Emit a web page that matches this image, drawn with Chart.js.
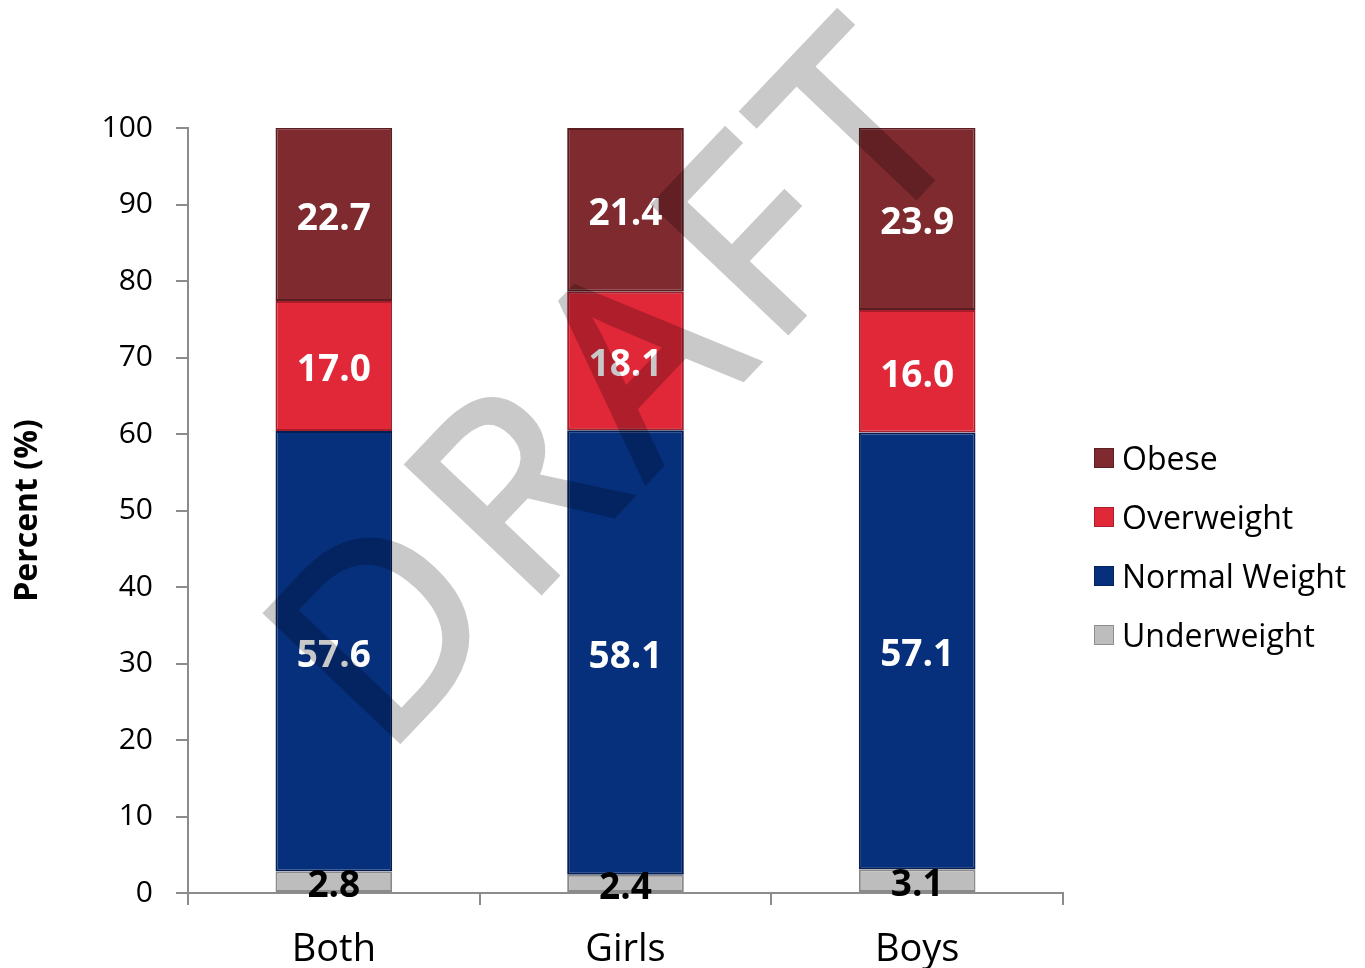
<!DOCTYPE html>
<html>
<head>
<meta charset="utf-8">
<script src="https://cdn.jsdelivr.net/npm/chart.js@4.4.0/dist/chart.umd.min.js"></script>
<style>
  html, body { margin: 0; padding: 0; background: #fff; }
  #wrap { position: relative; width: 1365px; height: 968px; }
  #legend { position: absolute; left: 1094px; top: 428px; font-family: 'Open Sans', sans-serif; font-size: 32px; color: #000; }
  .item { height: 59px; display: flex; align-items: center; white-space: nowrap; }
  .box { width: 20px; height: 20px; margin-right: 8px; box-sizing: border-box; border: 1px solid rgba(0,0,0,0.25); }
</style>
</head>
<body>
<div id="wrap">
  <canvas id="chart" width="1365" height="968"></canvas>
  <div id="legend"></div>
</div>
<script>
// Datos del gráfico
const categories = ['Both', 'Girls', 'Boys'];
const underweight = [2.8, 2.4, 3.1];
const normalWeight = [57.6, 58.1, 57.1];
const overweight = [17.0, 18.1, 16.0];
const obese = [22.7, 21.4, 23.9];

const seriesNames = ['Underweight', 'Normal Weight', 'Overweight', 'Obese'];
const seriesColors = ['#bdbdbd', '#062f7c', '#e02838', '#7e2a2f'];
const seriesBorders = ['#8a8a8a', '#041f55', '#a81d29', '#5a1d21'];
const labelColors = ['#000000', '#ffffff', '#ffffff', '#ffffff'];

const yMin = 0;
const yMax = 100;
const yStep = 10;

Chart.defaults.font.family = "'Open Sans', sans-serif";
Chart.defaults.color = '#000';

// Etiquetas de valores dentro de cada segmento
const valueLabels = {
  id: 'valueLabels',
  afterDatasetsDraw(chart) {
    const ctx = chart.ctx;
    ctx.save();
    ctx.font = "bold 37px 'Open Sans'";
    ctx.textAlign = 'center';
    ctx.textBaseline = 'middle';
    chart.data.datasets.forEach((ds, i) => {
      const meta = chart.getDatasetMeta(i);
      meta.data.forEach((bar, j) => {
        ctx.fillStyle = labelColors[i];
        const y = (bar.y + bar.base) / 2;
        ctx.fillText(ds.data[j].toFixed(1), bar.x, y + 5);
      });
    });
    ctx.restore();
  }
};

// Marca de agua "DRAFT" (se dibuja opaca en un lienzo aparte y luego con transparencia)
const watermark = {
  id: 'watermark',
  afterDraw(chart) {
    const off = document.createElement('canvas');
    off.width = chart.width;
    off.height = chart.height;
    const o = off.getContext('2d');
    o.translate(684, 441);
    o.rotate(-46.5 * Math.PI / 180);
    o.font = "258px 'Open Sans'";
    o.letterSpacing = '18px';
    o.textAlign = 'center';
    o.textBaseline = 'alphabetic';
    o.fillStyle = '#000';
    o.strokeStyle = '#000';
    o.lineWidth = 6;
    o.fillText('DRAFT', 0, 0);
    o.strokeText('DRAFT', 0, 0);

    const ctx = chart.ctx;
    ctx.save();
    ctx.globalAlpha = 0.21;
    ctx.drawImage(off, 0, 0);
    ctx.restore();
  }
};

const datasets = [underweight, normalWeight, overweight, obese].map((data, i) => ({
  label: seriesNames[i],
  data: data,
  backgroundColor: seriesColors[i],
  borderColor: seriesBorders[i],
  borderWidth: 2,
  borderSkipped: false,
  categoryPercentage: 1,
  barPercentage: 0.4
}));

const ctx = document.getElementById('chart').getContext('2d');
new Chart(ctx, {
  type: 'bar',
  data: { labels: categories, datasets: datasets },
  plugins: [valueLabels, watermark],
  options: {
    responsive: false,
    animation: false,
    devicePixelRatio: 1,
    layout: { padding: { top: 128, right: 302, left: 0, bottom: 0 } },
    plugins: {
      legend: { display: false },
      tooltip: { enabled: false }
    },
    scales: {
      x: {
        stacked: true,
        offset: true,
        grid: { drawOnChartArea: false, drawTicks: true, tickLength: 12, color: '#8c8c8c', lineWidth: 2, offset: true },
        border: { color: '#8c8c8c', width: 2 },
        ticks: { font: { size: 38 }, color: '#000', padding: 22 },
        afterFit(scale) { scale.height = 75; }
      },
      y: {
        stacked: true,
        min: yMin,
        max: yMax,
        grid: { drawOnChartArea: false, drawTicks: true, tickLength: 12, color: '#8c8c8c', lineWidth: 2 },
        border: { color: '#8c8c8c', width: 2 },
        ticks: { stepSize: yStep, font: { size: 30 }, color: '#000', padding: 23 },
        title: { display: true, text: 'Percent (%)', font: { size: 32, weight: 'bold' }, color: '#000', padding: { top: 9, bottom: 0 } },
        afterFit(scale) { scale.width = 188; }
      }
    }
  }
});

// Leyenda en HTML (orden inverso, como en el original)
const legendEl = document.getElementById('legend');
for (let i = seriesNames.length - 1; i >= 0; i--) {
  const item = document.createElement('div');
  item.className = 'item';
  const box = document.createElement('span');
  box.className = 'box';
  box.style.background = seriesColors[i];
  const text = document.createElement('span');
  text.textContent = seriesNames[i];
  item.appendChild(box);
  item.appendChild(text);
  legendEl.appendChild(item);
}
</script>
</body>
</html>
